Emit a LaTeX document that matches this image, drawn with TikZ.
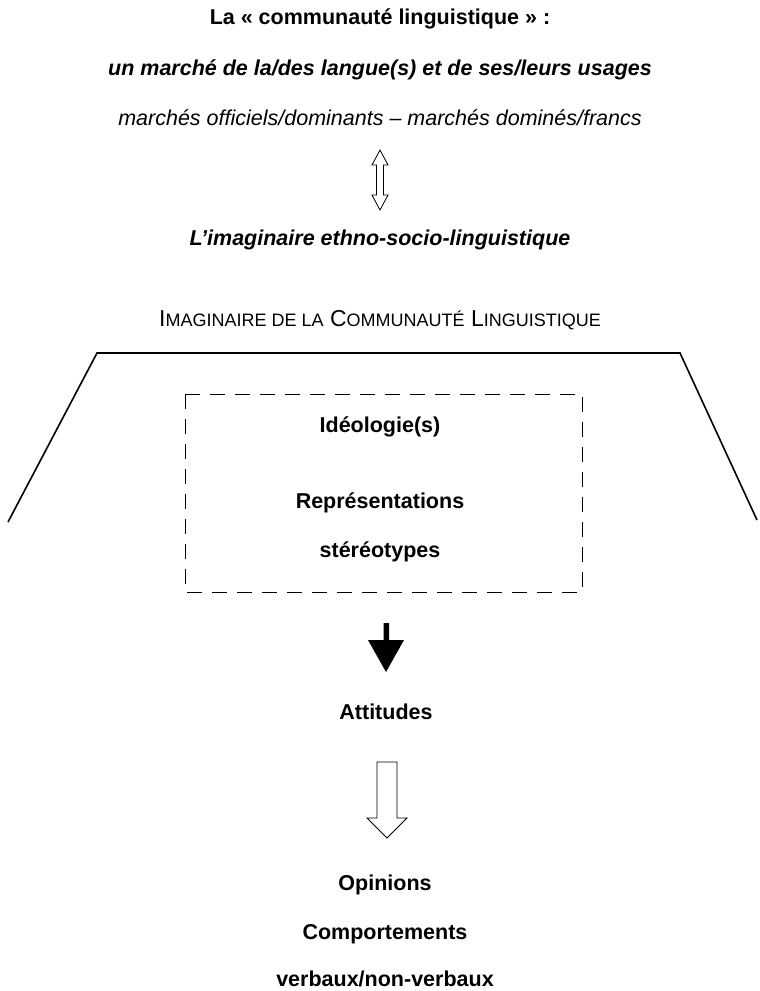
\documentclass[tikz,border=0pt]{standalone}
\usepackage{fontspec}
\setmainfont{Liberation Sans}
\begin{document}
\begin{tikzpicture}[x=1pt,y=-1pt,
  txt/.style={font=\fontsize{21.5}{25}\selectfont, inner sep=0pt, anchor=base},
  btxt/.style={txt, font=\fontsize{21.5}{25}\selectfont\bfseries},
  bitxt/.style={txt, font=\fontsize{21.5}{25}\selectfont\bfseries\itshape},
  itxt/.style={txt, font=\fontsize{21.5}{25}\selectfont\itshape},
  sctxt/.style={txt, font=\fontsize{23}{27}\selectfont},
  frame/.style={line width=1.6pt, line join=miter},
  dashbox/.style={draw, line width=0.8pt, dash pattern=on 15pt off 10pt},
  hollow/.style={draw, line width=0.8pt, fill=white, line join=miter},
  solid/.style={fill=black, draw=none}
]
\useasboundingbox (0,0) rectangle (760,991);
\newcommand{\smc}[1]{{\fontsize{18}{21}\selectfont #1}}
\node[btxt] (t1) at (380,24) {La « communauté linguistique » :};
\node[bitxt] (t2) at (380,75) {un marché de la/des langue(s) et de ses/leurs usages};
\node[itxt] (t3) at (380,125) {marchés officiels/dominants – marchés dominés/francs};
% double hollow arrow
\draw[hollow] (380,150) -- (388,165) -- (383.5,165) -- (383.5,195) -- (388,195) -- (380,210)
  -- (372,195) -- (376.5,195) -- (376.5,165) -- (372,165) -- cycle;
\node[bitxt] (t4) at (380,245) {L’imaginaire ethno-socio-linguistique};
\node[sctxt] (t5) at (380,326) {I\smc{MAGINAIRE DE LA} C\smc{OMMUNAUTÉ} L\smc{INGUISTIQUE}};
% trapezoid frame
\draw[frame] (8,522) -- (97,353) -- (680,353) -- (757,520);
% dashed box
\draw[dashbox] (185,394) rectangle (582,592);
\node[btxt] (i1) at (380,432) {Idéologie(s)};
\node[btxt] (i2) at (380,508) {Représentations};
\node[btxt] (i3) at (380,557) {stéréotypes};
% black arrow
\fill[solid] (383.5,623) -- (389,623) -- (389,640) -- (404,640) -- (386,672) -- (368,640) -- (383.5,640) -- cycle;
\node[btxt] (a1) at (386,719) {Attitudes};
% hollow arrow
\draw[hollow] (377,762) -- (397,762) -- (397,818) -- (407,818) -- (387,838) -- (367,818) -- (377,818) -- cycle;
\node[btxt] (o1) at (385,890) {Opinions};
\node[btxt] (o2) at (385,939) {Comportements};
\node[btxt] (o3) at (385,986) {verbaux/non-verbaux};
\end{tikzpicture}
\end{document}
